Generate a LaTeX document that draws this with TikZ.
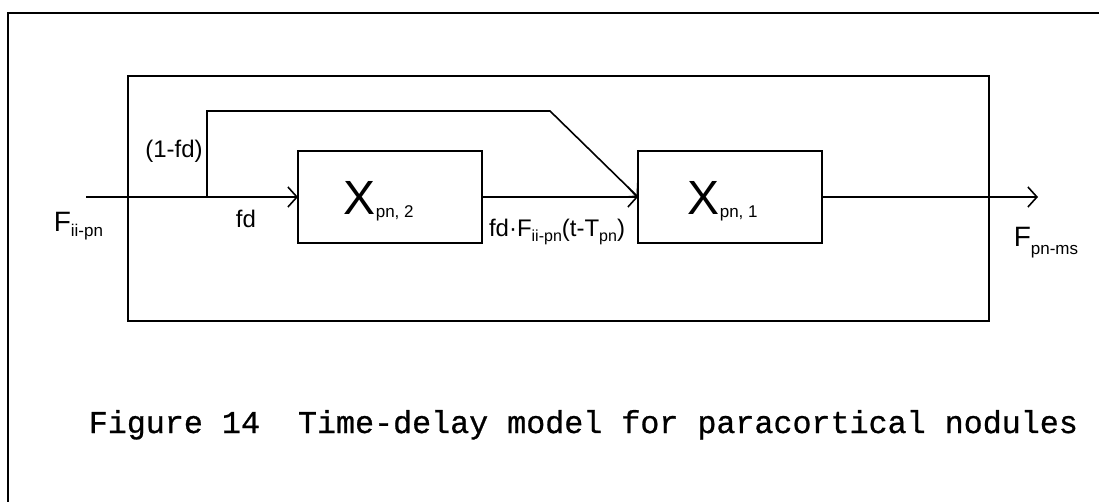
\documentclass[tikz,border=0pt]{standalone}
\usepackage{fontspec}
\setmainfont{Liberation Sans}
\newfontfamily\capfont[FakeBold=0.8]{Liberation Mono}
\usetikzlibrary{arrows.meta}
\newcommand\lsub[2][-5pt]{\raisebox{#1}{\fontsize{16}{16}\selectfont #2}}
\begin{document}
\begin{tikzpicture}[x=1pt,y=-1pt,line width=1.6pt,
  >={Straight Barb[length=9pt,width=20pt]},
  box/.style={draw,minimum width=184pt,minimum height=92pt,inner sep=0pt,outer sep=0pt},
  frame/.style={draw,inner sep=0pt,outer sep=0pt},
  lbl/.style={inner sep=0pt,font=\fontsize{24}{24}\selectfont},
  biglbl/.style={inner sep=0pt,font=\fontsize{28}{28}\selectfont},
  xlbl/.style={inner sep=0pt,font=\fontsize{48}{48}\selectfont},
  captxt/.style={inner sep=0pt,font=\capfont\fontsize{31.7}{32}\selectfont},
  flow/.style={->}]
\path[use as bounding box] (0,0) rectangle (1099,502);
% page frame
\draw (8,502) -- (8,13) -- (1099,13);
% outer system box
\node[frame,minimum width=861pt,minimum height=245pt] (outer) at (558.5,198.5) {};
% inner blocks
\node[box] (b2) at (390,197) {};
\node[box] (b1) at (730,197) {};
\node[xlbl,anchor=base west] (x2) at (343,215) {X\lsub[-3pt]{\fontsize{17}{17}\selectfont pn, 2}};
\node[xlbl,anchor=base west] (x1) at (687,215) {X\lsub[-3pt]{\fontsize{17}{17}\selectfont pn, 1}};
% connectors
\coordinate (in) at (86,197);
\coordinate (split) at (207,197);
\coordinate (up) at (207,111);
\coordinate (bend) at (550,111);
\coordinate (out) at (1038,197);
\draw (in) -- (split);
\draw[flow] (split) -- (b2.west);
\draw[flow] (split) -- (up) -- (bend) -- (b1.west);
\draw[flow] (b2.east) -- (b1.west);
\draw[flow] (b1.east) -- (out);
% labels
\node[biglbl,anchor=base west] (fin) at (53,232) {F\lsub[-5pt]{\fontsize{17}{17}\selectfont ii-pn}};
\node[lbl,anchor=base] (lfd) at (174,158) {(1-fd)};
\node[lbl,anchor=base] (fd) at (246,228) {fd};
\node[lbl,anchor=base] (mid) at (557,237) {fd·F\lsub{ii-pn}(t-T\lsub{pn})};
\node[biglbl,anchor=base west] (fout) at (1013,247) {F\lsub[-8pt]{\fontsize{17}{17}\selectfont pn-ms}};
% caption
\node[captxt,anchor=base west] (caption) at (88,433) {Figure 14\ \ Time-delay model for paracortical nodules};
\end{tikzpicture}
\end{document}
